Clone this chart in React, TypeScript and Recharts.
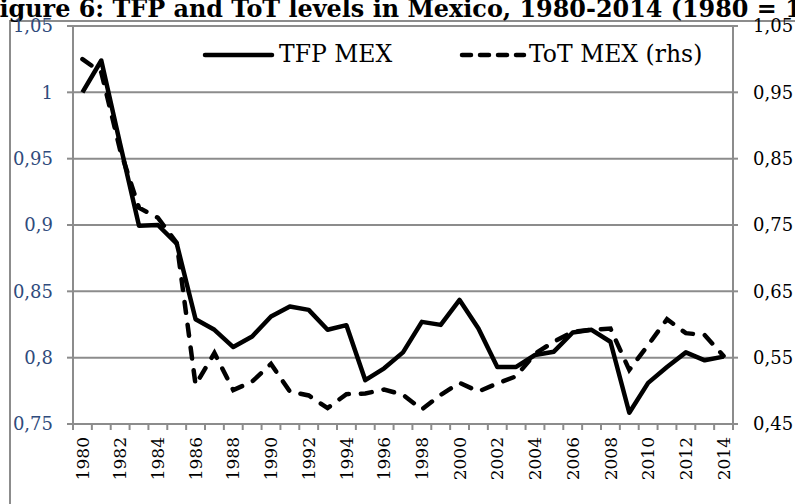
import { LineChart, Line, XAxis, YAxis, CartesianGrid } from "recharts";

// TFP and terms of trade, Mexico, 1980 = 1
const years = [
  "1980", "1981", "1982", "1983", "1984", "1985", "1986", "1987", "1988", "1989",
  "1990", "1991", "1992", "1993", "1994", "1995", "1996", "1997", "1998", "1999",
  "2000", "2001", "2002", "2003", "2004", "2005", "2006", "2007", "2008", "2009",
  "2010", "2011", "2012", "2013", "2014",
];
const tfpMex = [
  1.0, 1.024, 0.961, 0.8995, 0.9, 0.886, 0.829, 0.821, 0.808, 0.816,
  0.831, 0.8385, 0.836, 0.821, 0.8245, 0.783, 0.792, 0.804, 0.827, 0.8247,
  0.8435, 0.822, 0.793, 0.793, 0.802, 0.8045, 0.819, 0.821, 0.812, 0.7585,
  0.781, 0.793, 0.804, 0.798, 0.8008,
];
const totMex = [
  1.0, 0.98, 0.863, 0.776, 0.761, 0.723, 0.509, 0.557, 0.501, 0.514,
  0.5405, 0.499, 0.493, 0.474, 0.495, 0.496, 0.502, 0.494, 0.472, 0.494,
  0.512, 0.499, 0.511, 0.522, 0.556, 0.574, 0.589, 0.592, 0.594, 0.5315,
  0.569, 0.608, 0.587, 0.584, 0.5526,
];
const leftTicks = [0.75, 0.8, 0.85, 0.9, 0.95, 1, 1.05];
const rightTicks = [0.45, 0.55, 0.65, 0.75, 0.85, 0.95, 1.05];

const W = 795;
const H = 504;
const PLOT_L = 73;
const PLOT_R = 733;
const STEP = (PLOT_R - PLOT_L) / years.length;
const GRID = "#8c8c8c";
const FONT = "DejaVu Serif";

const data = years.map((year, i) => ({ year, tfp: tfpMex[i], tot: totMex[i] }));

const fmt = (v: number) => String(+v.toFixed(2)).replace(".", ",");

function YearTick({ x, y, payload, index }: any) {
  const showLabel = Number(payload.value) % 2 === 0;
  const ty = y + 13;
  return (
    <g>
      <line x1={x - STEP / 2} x2={x - STEP / 2} y1={y} y2={y + 6} stroke={GRID} strokeWidth={2} />
      {index === years.length - 1 && (
        <line x1={x + STEP / 2} x2={x + STEP / 2} y1={y} y2={y + 6} stroke={GRID} strokeWidth={2} />
      )}
      {showLabel && (
        <text
          x={x}
          y={ty}
          dy="0.36em"
          textAnchor="end"
          transform={`rotate(-90 ${x} ${ty})`}
          fontFamily={FONT}
          fontSize={17}
          fill="#000"
        >
          {payload.value}
        </text>
      )}
    </g>
  );
}

function LegendOverlay() {
  return (
    <svg width={W} height={90} style={{ position: "absolute", left: 0, top: 0 }}>
      <line x1={205} x2={272} y1={55} y2={55} stroke="#000" strokeWidth={4.5} strokeLinecap="round" />
      <text x={279} y={62} fill="#000" fontFamily={FONT} fontSize={23.5}>TFP MEX</text>
      <line x1={462} x2={524} y1={55} y2={55} stroke="#000" strokeWidth={4.5} strokeLinecap="round" strokeDasharray="9 9" />
      <text x={529} y={62} fill="#000" fontFamily={FONT} fontSize={23.5}>ToT MEX (rhs)</text>
    </svg>
  );
}

export default function App() {
  return (
    <div
      style={{
        position: "fixed",
        left: 0,
        top: 0,
        width: W,
        height: H,
        overflow: "hidden",
        background: "#fff",
      }}
    >
      <div
        style={{
          position: "absolute",
          left: 9,
          top: 20,
          width: 820,
          height: 520,
          border: `2px solid ${GRID}`,
        }}
      />
      <div
        style={{
          position: "absolute",
          left: -17.5,
          top: -5,
          whiteSpace: "nowrap",
          fontFamily: FONT,
          fontWeight: "bold",
          fontSize: 23.9,
          lineHeight: "28px",
          color: "#000",
        }}
      >
        Figure 6: TFP and ToT levels in Mexico, 1980-2014 (1980 = 1)
      </div>
      <div style={{ position: "absolute", left: 0, top: 0 }}>
        <LineChart width={W} height={H} data={data} margin={{ top: 26, right: 0, bottom: 0, left: 0 }}>
          <CartesianGrid yAxisId="left" vertical={false} stroke={GRID} strokeWidth={2} />
          <XAxis
            dataKey="year"
            interval={0}
            height={80}
            padding={{ left: STEP / 2, right: STEP / 2 }}
            axisLine={{ stroke: GRID, strokeWidth: 2 }}
            tickLine={false}
            tickSize={0}
            tickMargin={0}
            tick={<YearTick />}
          />
          <YAxis
            yAxisId="left"
            width={73}
            domain={[0.75, 1.05]}
            ticks={leftTicks}
            tickFormatter={fmt}
            axisLine={{ stroke: GRID, strokeWidth: 2 }}
            tickLine={{ stroke: GRID, strokeWidth: 2 }}
            tickSize={6}
            tickMargin={14}
            tick={{ fill: "#2f4b7c", fontSize: 18, fontFamily: FONT }}
          />
          <YAxis
            yAxisId="right"
            orientation="right"
            width={62}
            domain={[0.45, 1.05]}
            ticks={rightTicks}
            tickFormatter={fmt}
            axisLine={{ stroke: GRID, strokeWidth: 2 }}
            tickLine={{ stroke: GRID, strokeWidth: 2 }}
            tickSize={5}
            tickMargin={15}
            tick={{ fill: "#000", fontSize: 18, fontFamily: FONT }}
          />
          <Line
            yAxisId="right"
            dataKey="tot"
            name="ToT MEX (rhs)"
            type="linear"
            stroke="#000"
            strokeWidth={4.5}
            strokeDasharray="11 12"
            strokeLinecap="round"
            dot={false}
            isAnimationActive={false}
          />
          <Line
            yAxisId="left"
            dataKey="tfp"
            name="TFP MEX"
            type="linear"
            stroke="#000"
            strokeWidth={4.5}
            strokeLinejoin="round"
            dot={false}
            isAnimationActive={false}
          />
        </LineChart>
      </div>
      <LegendOverlay />
    </div>
  );
}
